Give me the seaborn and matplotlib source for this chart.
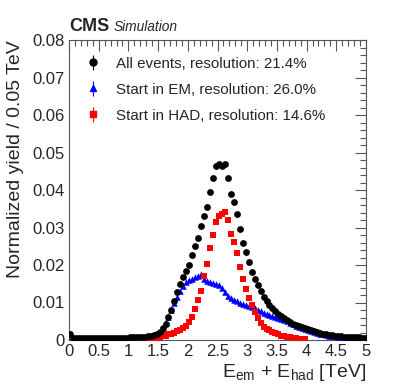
import numpy as np
import pandas as pd
import seaborn as sns
import matplotlib
matplotlib.use('Agg')
import matplotlib.pyplot as plt
from matplotlib.ticker import MultipleLocator, FormatStrFormatter

# 100 bins of 0.05 TeV between 0 and 5 TeV
bin_width = 0.05
bin_centers = np.arange(100) * bin_width + bin_width / 2

all_events = [
    0.0015, 0.0006, 0.0006, 0.0006, 0.0006, 0.0006, 0.0006, 0.0006, 0.0006, 0.0006,
    0.0006, 0.0006, 0.0006, 0.0006, 0.0006, 0.0006, 0.0006, 0.0006, 0.0006, 0.0006,
    0.0007, 0.0007, 0.0008, 0.0008, 0.0008, 0.0009, 0.0010, 0.0011, 0.0013, 0.0016,
    0.0021, 0.0031, 0.0044, 0.0062, 0.0081, 0.0104, 0.0127, 0.0150, 0.0168, 0.0185,
    0.0201, 0.0228, 0.0250, 0.0272, 0.0305, 0.0330, 0.0355, 0.0395, 0.0433, 0.0465,
    0.0470, 0.0465, 0.0470, 0.0433, 0.0390, 0.0369, 0.0336, 0.0296, 0.0260, 0.0234,
    0.0207, 0.0181, 0.0162, 0.0147, 0.0130, 0.0116, 0.0104, 0.0094, 0.0085, 0.0077,
    0.0070, 0.0064, 0.0058, 0.0053, 0.0048, 0.0044, 0.0040, 0.0037, 0.0034, 0.0031,
    0.0029, 0.0026, 0.0023, 0.0021, 0.0019, 0.0017, 0.0016, 0.0014, 0.0013, 0.0012,
    0.0011, 0.0010, 0.0009, 0.0009, 0.0008, 0.0008, 0.0007, 0.0007, 0.0006, 0.0006,
]

start_em = [
    0.0008, 0.0002, 0.0002, 0.0002, 0.0002, 0.0002, 0.0002, 0.0002, 0.0002, 0.0002,
    0.0002, 0.0002, 0.0002, 0.0002, 0.0002, 0.0002, 0.0002, 0.0002, 0.0002, 0.0002,
    0.0002, 0.0002, 0.0002, 0.0002, 0.0002, 0.0002, 0.0003, 0.0005, 0.0008, 0.0013,
    0.0020, 0.0030, 0.0045, 0.0062, 0.0080, 0.0098, 0.0115, 0.0130, 0.0143, 0.0155,
    0.0160, 0.0163, 0.0167, 0.0172, 0.0175, 0.0162, 0.0157, 0.0156, 0.0153, 0.0150,
    0.0146, 0.0138, 0.0128, 0.0118, 0.0111, 0.0107, 0.0104, 0.0100, 0.0097, 0.0094,
    0.0092, 0.0089, 0.0085, 0.0080, 0.0077, 0.0073, 0.0070, 0.0067, 0.0064, 0.0062,
    0.0060, 0.0057, 0.0053, 0.0050, 0.0046, 0.0042, 0.0038, 0.0035, 0.0032, 0.0029,
    0.0027, 0.0024, 0.0021, 0.0019, 0.0017, 0.0015, 0.0014, 0.0012, 0.0011, 0.0010,
    0.0009, 0.0008, 0.0008, 0.0007, 0.0007, 0.0006, 0.0006, 0.0005, 0.0005, 0.0004,
]

start_had = [
    0.0012, 0.0002, 0.0002, 0.0002, 0.0002, 0.0002, 0.0002, 0.0002, 0.0002, 0.0002,
    0.0002, 0.0002, 0.0002, 0.0002, 0.0002, 0.0002, 0.0002, 0.0002, 0.0002, 0.0002,
    0.0002, 0.0002, 0.0002, 0.0002, 0.0002, 0.0002, 0.0002, 0.0002, 0.0003, 0.0005,
    0.0008, 0.0010, 0.0012, 0.0015, 0.0017, 0.0020, 0.0024, 0.0028, 0.0032, 0.0037,
    0.0047, 0.0062, 0.0082, 0.0107, 0.0132, 0.0170, 0.0202, 0.0245, 0.0281, 0.0315,
    0.0330, 0.0337, 0.0342, 0.0319, 0.0284, 0.0262, 0.0231, 0.0196, 0.0162, 0.0135,
    0.0111, 0.0093, 0.0074, 0.0058, 0.0045, 0.0036, 0.0030, 0.0026, 0.0022, 0.0018,
    0.0015, 0.0012, 0.0010, 0.0008, 0.0007, 0.0006, 0.0005, 0.0004, 0.0003, 0.0002,
    np.nan, np.nan, np.nan, np.nan, np.nan, np.nan, np.nan, np.nan, np.nan, np.nan,
    np.nan, np.nan, np.nan, np.nan, np.nan, np.nan, np.nan, np.nan, np.nan, np.nan,
]

labels = [
    'All events, resolution: 21.4%',
    'Start in EM, resolution: 26.0%',
    'Start in HAD, resolution: 14.6%',
]

df = pd.DataFrame({
    'energy': bin_centers,
    'all': all_events,
    'em': start_em,
    'had': start_had,
})

sns.set_style('white')
plt.rcParams['font.family'] = ['Liberation Sans', 'DejaVu Sans']
plt.rcParams['mathtext.fontset'] = 'custom'
plt.rcParams['mathtext.rm'] = 'Liberation Sans'

fig = plt.figure(figsize=(4.07, 3.91), dpi=100)
ax = fig.add_axes([69 / 407, 1 - 340 / 391, 297 / 407, 300 / 391])

sns.scatterplot(data=df, x='energy', y='em', ax=ax, color='blue', marker='^',
                s=22, linewidth=0, legend=False, zorder=3)
sns.scatterplot(data=df, x='energy', y='had', ax=ax, color='red', marker='s',
                s=15, linewidth=0, legend=False, zorder=4)
sns.scatterplot(data=df, x='energy', y='all', ax=ax, color='black', marker='o',
                s=24, linewidth=0, legend=False, zorder=5)

ax.set_xlim(0, 5)
ax.set_ylim(0, 0.08)
ax.xaxis.set_major_locator(MultipleLocator(0.5))
ax.xaxis.set_minor_locator(MultipleLocator(0.1))
ax.yaxis.set_major_locator(MultipleLocator(0.01))
ax.yaxis.set_minor_locator(MultipleLocator(0.002))
ax.xaxis.set_major_formatter(FormatStrFormatter('%g'))
ax.yaxis.set_major_formatter(FormatStrFormatter('%g'))
ax.tick_params(which='both', direction='in', top=True, right=True,
               labelsize=12, width=0.8, color='#555555')
ax.tick_params(which='major', length=8, pad=3)
ax.tick_params(which='minor', length=4)
for sp in ax.spines.values():
    sp.set_color('#555555')
    sp.set_linewidth(0.8)

ax.set_xlabel(r'E$_\mathregular{em}$ + E$_\mathregular{had}$ [TeV]', fontsize=14,
              loc='right', labelpad=2)
ax.set_ylabel('Normalized yield / 0.05 TeV', fontsize=14, loc='top', labelpad=6)

# legend proxies drawn like ROOT markers with error bars
h_all = ax.errorbar([np.nan], [np.nan], yerr=[np.nan], fmt='o', color='black',
                    markersize=5, elinewidth=0.8)
h_em = ax.errorbar([np.nan], [np.nan], yerr=[np.nan], fmt='^', color='blue',
                   markersize=5, elinewidth=0.8)
h_had = ax.errorbar([np.nan], [np.nan], yerr=[np.nan], fmt='s', color='red',
                    markersize=4.5, elinewidth=0.8)
ax.legend([h_all, h_em, h_had], labels, loc='upper left', frameon=False,
          fontsize=10.9, handlelength=1.0, handletextpad=1.0, labelspacing=0.8,
          bbox_to_anchor=(0.035, 0.965), borderaxespad=0)

fig.text(69 / 407, 1 - 31 / 391, 'CMS', fontsize=13, fontweight='bold')
fig.text(114 / 407, 1 - 31 / 391, 'Simulation', fontsize=9.9, style='italic')

fig.savefig('out.png', dpi=100)
